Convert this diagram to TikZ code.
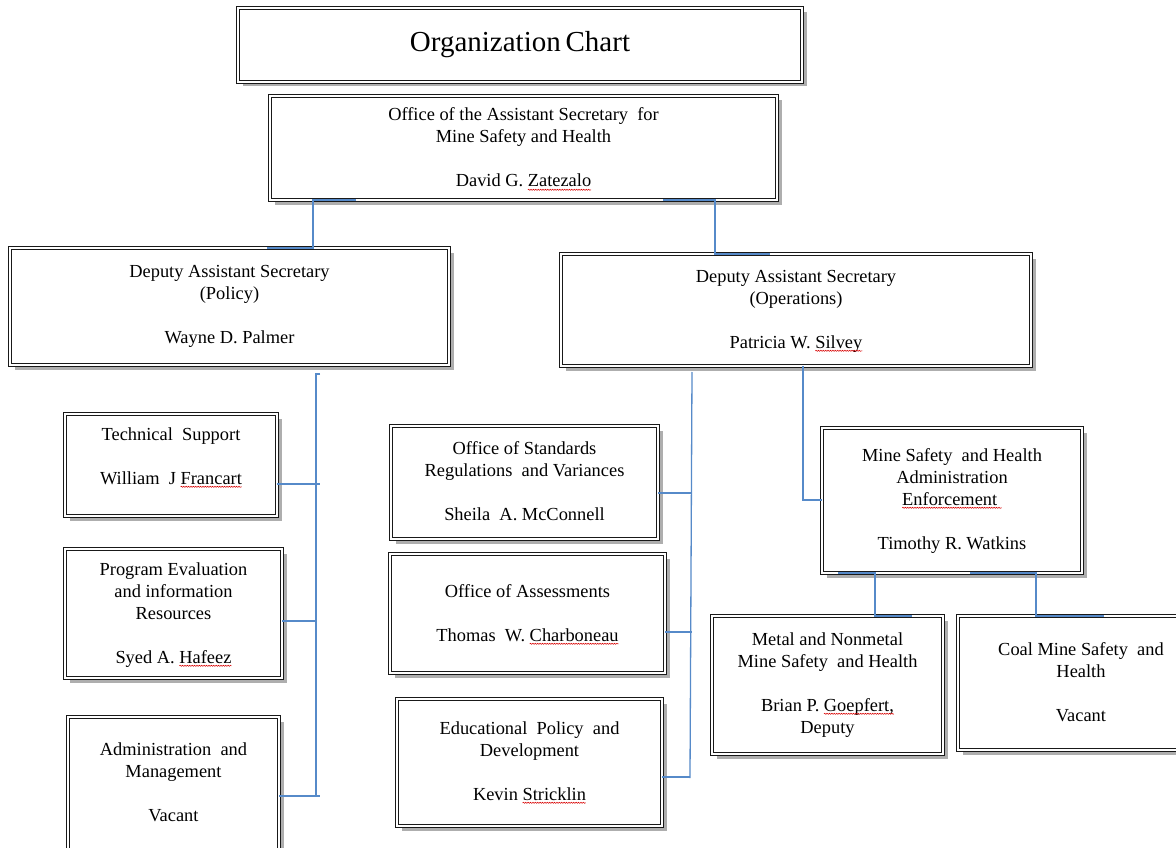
\documentclass[tikz,border=0pt]{standalone}
\usepackage{fontspec}
\setmainfont{Liberation Serif}
\usetikzlibrary{shadows,decorations.pathmorphing,calc}
\definecolor{connblue}{RGB}{86,138,201}
\definecolor{boxline}{RGB}{25,25,25}
\newcommand\sq[1]{\tikz[baseline=(sqw.base)]{\node[inner sep=0pt,outer sep=0pt] (sqw) {#1};\draw[overlay,red!85!black,line width=0.55pt,decorate,decoration={snake,amplitude=0.55pt,segment length=2.4pt}] ([yshift=-2.8pt]sqw.base west) -- ([yshift=-2.8pt]sqw.base east);}}
\newcommand\orgbox[7]{%
 \pgfmathsetmacro\bw{#4-#2}\pgfmathsetmacro\bh{#5-#3}\pgfmathsetmacro\bpad{#6-15}%
 \node[obox, anchor=north west] (#1) at (#2,#3) {\parbox[c][\bh pt][t]{\bw pt}{\centering\vspace*{\bpad pt}\rule{0pt}{15pt}#7\par}};}
\tikzset{
  obox/.style={draw=boxline, line width=1.6pt, double=white, double distance=1.5pt,
    fill=white, inner sep=0pt, outer sep=0pt,
    drop shadow={opacity=0.45, fill=black!70, shadow xshift=4.5pt, shadow yshift=-4.5pt},
    font=\fontsize{18.4pt}{22pt}\selectfont},
  conn/.style={draw=connblue, line width=1.3pt}
}
\begin{document}
\begin{tikzpicture}[x=1pt,y=-1pt]
\useasboundingbox (0,0) rectangle (1176,848);
\fill[white] (0,0) rectangle (1176,848);
% title
\node[obox, font=\fontsize{29pt}{34pt}\selectfont, minimum width=564pt, minimum height=74pt] (title) at (520,45) {Organization\,Chart};
\orgbox{asst}{270}{96}{777}{200}{25}{Office of the Assistant Secretary\ \ for\\Mine Safety and Health\\[22pt]David G. \sq{Zatezalo}}
\orgbox{policy}{10}{248}{449}{365}{29}{Deputy Assistant Secretary\\(Policy)\\[22pt]Wayne D. Palmer}
\orgbox{ops}{561}{254}{1031}{366}{28}{Deputy Assistant Secretary\\(Operations)\\[22pt]Patricia W. \sq{Silvey}}
\orgbox{tech}{65}{414}{277}{516}{26}{Technical\ \ Support\\[22pt]William\ \ J \sq{Francart}}
\orgbox{prog}{65}{549}{282}{678}{26}{Program Evaluation\\and information\\Resources\\[22pt]Syed A. \sq{Hafeez}}
\orgbox{admin}{68}{717}{279}{870}{38}{Administration\ \ and\\Management\\[22pt]Vacant}
\orgbox{stand}{391}{426}{658}{539}{28}{Office of Standards\\Regulations\ \ and Variances\\[22pt]Sheila\ \ A. McConnell}
\orgbox{assess}{390}{554}{665}{673}{43}{Office of Assessments\\[22pt]Thomas\ \ W. \sq{Charboneau}}
\orgbox{edu}{397}{699}{662}{826}{35}{Educational\ \ Policy\ \ and\\Development\\[22pt]Kevin \sq{Stricklin}}
\orgbox{msha}{822}{428}{1082}{573}{33}{Mine Safety\ \ and Health\\Administration\\\sq{Enforcement\ \ }\\[22pt]Timothy R. Watkins}
\orgbox{metal}{712}{616}{943}{754}{29}{Metal and Nonmetal\\Mine Safety\ \ and Health\\[22pt]Brian P. \sq{Goepfert,}\\Deputy}
\orgbox{coal}{958}{616}{1204}{750}{39}{Coal Mine Safety\ \ and\\Health\\[22pt]Vacant}
% connectors top
\draw[conn] (356,0 |- asst.south) -- (313,0 |- asst.south) -- (313,0 |- policy.north) -- (267,0 |- policy.north);
\draw[conn] (663,0 |- asst.south) -- (715,0 |- asst.south) -- (715,0 |- ops.north) -- (770,0 |- ops.north);
% policy bracket
\coordinate (pbt) at (316,374);
\coordinate (pbb) at (316,796);
\draw[conn] (320,374) -- (pbt) -- (pbb) -- (320,796);
\draw[conn] (tech.east |- 0,484) -- (320,484);
\draw[conn] (prog.east |- 0,621) -- (316,621);
\draw[conn] (admin.east |- 0,796) -- (pbb);
% operations bracket
\coordinate (obt) at (692,372);
\coordinate (obb) at (690,778);
\draw[conn] (obt) -- (obb);
\draw[conn] (stand.east |- 0,493) -- (692,493);
\draw[conn] (assess.east |- 0,632) -- (692,632);
\draw[conn] (edu.east |- 0,777) -- (690,777);
% ops to msha
\draw[conn] (803,0 |- ops.south) -- (803,500) -- (msha.west |- 0,500);
% msha to metal / coal
\draw[conn] (838,0 |- msha.south) -- (875,0 |- msha.south) -- (875,0 |- metal.north) -- (912,0 |- metal.north);
\draw[conn] (970,0 |- msha.south) -- (1036,0 |- msha.south) -- (1036,0 |- coal.north) -- (1104,0 |- coal.north);
\end{tikzpicture}
\end{document}
